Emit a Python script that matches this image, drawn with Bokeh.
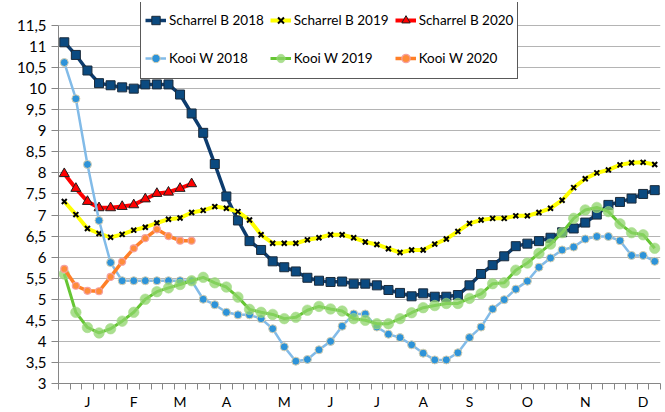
from bokeh.plotting import figure
from bokeh.models import Range1d, FixedTicker, Legend, LegendItem
from bokeh.embed import file_html
from bokeh.resources import INLINE

# weekly categories (52 weeks), month letter under the middle week of each month
week_labels = ["", "", "J", "", "", "", "F", "", "", "", "M", "", "", "", "A", "", "", "", "",
               "M", "", "", "", "J", "", "", "", "J", "", "", "", "A", "", "", "", "S", "", "", "", "",
               "O", "", "", "", "", "N", "", "", "", "", "D", ""]

scharrel_b_2018 = [11.1, 10.8, 10.43, 10.13, 10.08, 10.03, 10.0, 10.1, 10.1, 10.1, 9.86, 9.41, 8.95,
                   8.21, 7.44, 6.87, 6.38, 6.17, 5.9, 5.76, 5.66, 5.51, 5.44, 5.41, 5.42, 5.37, 5.37,
                   5.33, 5.22, 5.15, 5.07, 5.14, 5.06, 5.06, 5.1, 5.33, 5.6, 5.81, 6.02, 6.26, 6.32,
                   6.38, 6.46, 6.59, 6.68, 6.82, 7.01, 7.24, 7.31, 7.39, 7.5, 7.59]
scharrel_b_2019 = [7.32, 7.01, 6.68, 6.56, 6.47, 6.54, 6.64, 6.71, 6.81, 6.9, 6.93, 7.06, 7.11, 7.2,
                   7.16, 7.08, 6.88, 6.53, 6.33, 6.33, 6.33, 6.41, 6.46, 6.53, 6.53, 6.46, 6.36, 6.3,
                   6.2, 6.11, 6.17, 6.17, 6.31, 6.43, 6.61, 6.8, 6.88, 6.92, 6.92, 6.98, 6.98, 7.06,
                   7.16, 7.35, 7.65, 7.86, 8.0, 8.07, 8.19, 8.24, 8.25, 8.2]
scharrel_b_2020 = [7.98, 7.63, 7.32, 7.17, 7.17, 7.2, 7.24, 7.38, 7.51, 7.54, 7.63, 7.74]
kooi_w_2018 = [10.62, 9.76, 8.2, 6.87, 5.87, 5.44, 5.44, 5.44, 5.44, 5.44, 5.44, 5.44, 5.0, 4.87,
               4.69, 4.63, 4.63, 4.54, 4.3, 3.87, 3.53, 3.57, 3.8, 4.0, 4.36, 4.65, 4.65, 4.34, 4.17,
               4.09, 3.92, 3.72, 3.56, 3.56, 3.73, 4.09, 4.34, 4.77, 4.99, 5.24, 5.43, 5.76, 5.98,
               6.17, 6.24, 6.43, 6.49, 6.49, 6.39, 6.04, 6.04, 5.9]
kooi_w_2019 = [5.6, 4.69, 4.33, 4.2, 4.3, 4.48, 4.69, 5.0, 5.18, 5.27, 5.35, 5.44, 5.52, 5.39, 5.29,
               5.05, 4.76, 4.69, 4.64, 4.54, 4.57, 4.74, 4.83, 4.77, 4.72, 4.54, 4.5, 4.42, 4.42,
               4.54, 4.68, 4.8, 4.85, 4.9, 4.9, 5.02, 5.13, 5.37, 5.39, 5.69, 5.86, 6.09, 6.31,
               6.58, 6.92, 7.12, 7.18, 7.08, 6.79, 6.58, 6.53, 6.21]
kooi_w_2020 = [5.72, 5.32, 5.2, 5.19, 5.53, 5.89, 6.21, 6.45, 6.66, 6.5, 6.39, 6.39]

y_ticks = [3 + 0.5 * k for k in range(18)]

FONT = "Lato"
n = len(week_labels)

# frame spans 2..384 px; gridded value range (3..11.5) occupies 25..384 px,
# the extra headroom above 11.5 holds the legend box
W, H = 665, 412
top_b, bot_b = 2, 28
grid_top_px = 25
frame_h = H - top_b - bot_b
grid_h = frame_h - (grid_top_px - top_b)
y_lo, y_hi = y_ticks[0], y_ticks[-1]
y_end = y_hi + (grid_top_px - top_b) * (y_hi - y_lo) / grid_h

p = figure(width=W, height=H, output_backend="svg", toolbar_location=None,
           x_range=Range1d(0, n), y_range=Range1d(y_lo, y_end),
           min_border_left=58, min_border_right=5, min_border_top=top_b, min_border_bottom=bot_b)
p.outline_line_color = None
p.background_fill_color = "white"

def xs(vals):
    return [i + 0.5 for i in range(len(vals))]

r1 = p.line(xs(scharrel_b_2018), scharrel_b_2018, line_color="#0d3c6e", line_width=3.5)
m1 = p.scatter(xs(scharrel_b_2018), scharrel_b_2018, marker="square", size=9,
               fill_color="#0b4a80", line_color="#1a2a3a", line_width=1)
r2 = p.line(xs(scharrel_b_2019), scharrel_b_2019, line_color="#ffff00", line_width=4)
m2 = p.scatter(xs(scharrel_b_2019), scharrel_b_2019, marker="x", size=7,
               line_color="black", line_width=2)
r3 = p.line(xs(scharrel_b_2020), scharrel_b_2020, line_color="#ff0000", line_width=4)
m3 = p.scatter(xs(scharrel_b_2020), scharrel_b_2020, marker="triangle", size=10,
               fill_color="#ff0000", line_color="#202020", line_width=1)
r4 = p.line(xs(kooi_w_2018), kooi_w_2018, line_color="#82bbe8", line_width=2.5)
m4 = p.scatter(xs(kooi_w_2018), kooi_w_2018, marker="circle", size=8,
               fill_color="#2d93d9", line_color="#d8cfb0", line_width=1)
r5 = p.line(xs(kooi_w_2019), kooi_w_2019, line_color="#66c634", line_width=3)
m5 = p.scatter(xs(kooi_w_2019), kooi_w_2019, marker="circle", size=10.5,
               fill_color="#8ed46a", fill_alpha=0.75, line_color="#a6dc8a", line_alpha=0.6)
r6 = p.line(xs(kooi_w_2020), kooi_w_2020, line_color="#ff7f27", line_width=3.5)
m6 = p.scatter(xs(kooi_w_2020), kooi_w_2020, marker="circle", size=7,
               fill_color="#ff8c3a", line_color="#f4a0a0", line_width=1.2)

items = [
    LegendItem(label="Scharrel B 2018", renderers=[r1, m1]),
    LegendItem(label="Scharrel B 2019", renderers=[r2, m2]),
    LegendItem(label="Scharrel B 2020", renderers=[r3, m3]),
    LegendItem(label="Kooi W 2018", renderers=[r4, m4]),
    LegendItem(label="Kooi W 2019", renderers=[r5, m5]),
    LegendItem(label="Kooi W 2020", renderers=[r6, m6]),
]
legend = Legend(items=items, location=(82, 304), orientation="horizontal", ncols=3,
                label_text_font=FONT, label_text_font_size="13.5px", label_text_color="black",
                glyph_width=21, glyph_height=32, label_standoff=3, label_height=32,
                spacing=6, padding=4, margin=0,
                border_line_color="#595959", border_line_width=1, border_line_alpha=1.0,
                background_fill_color="white", background_fill_alpha=1)
p.add_layout(legend, "center")

# x axis
major_x = [i + 0.5 for i, lab in enumerate(week_labels) if lab]
p.xaxis.ticker = FixedTicker(ticks=major_x, minor_ticks=list(range(n + 1)))
p.xaxis.major_label_overrides = {i + 0.5: lab for i, lab in enumerate(week_labels) if lab}
p.xaxis.major_tick_out = 0
p.xaxis.major_tick_in = 0
p.xaxis.minor_tick_out = 6
p.xaxis.minor_tick_in = 0
p.xaxis.minor_tick_line_color = "#868686"
p.xaxis.axis_line_color = "#868686"
p.xaxis.major_label_standoff = 3
p.xaxis.major_label_text_font = FONT
p.xaxis.major_label_text_font_size = "14px"
p.xaxis.major_label_text_color = "black"
p.xgrid.visible = False

# y axis
p.yaxis.ticker = FixedTicker(ticks=y_ticks)
p.yaxis.bounds = (y_lo, y_hi)
p.yaxis.major_label_overrides = {t: (("%g" % t).replace(".", ",")) for t in y_ticks}
p.yaxis.major_tick_out = 7
p.yaxis.major_tick_in = 0
p.yaxis.minor_tick_out = 0
p.yaxis.minor_tick_in = 0
p.yaxis.major_tick_line_color = "#868686"
p.yaxis.axis_line_color = "#868686"
p.yaxis.major_label_standoff = 5
p.yaxis.major_label_text_font = FONT
p.yaxis.major_label_text_font_size = "15px"
p.yaxis.major_label_text_color = "black"
p.ygrid.grid_line_color = "#b4b4b4"
p.ygrid.grid_line_width = 1

open("out.html", "w").write(file_html(p, INLINE))
